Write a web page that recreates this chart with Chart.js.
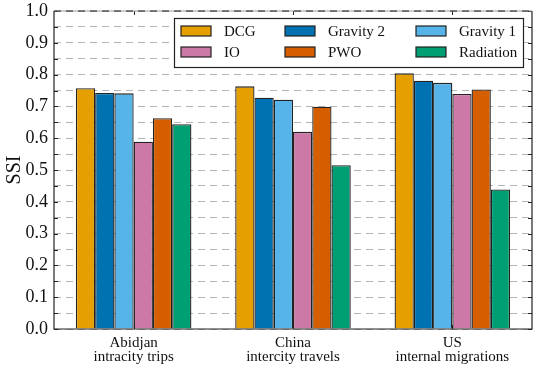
<!DOCTYPE html>
<html>
<head>
<meta charset="utf-8">
<script src="https://cdn.jsdelivr.net/npm/chart.js@4"></script>
<style>
    html, body { margin: 0; padding: 0; background: #fff; }
    #wrap { width: 548px; height: 366px; }
</style>
</head>
<body>
<div id="wrap"><canvas id="chartSSI"></canvas></div>
<script>
const categorias = [['Abidjan', 'intracity trips'], ['China', 'intercity travels'], ['US', 'internal migrations']];
const modelos = ['DCG', 'Gravity 2', 'Gravity 1', 'IO', 'PWO', 'Radiation'];
const colores = ['#E69F00', '#0072B2', '#56B4E9', '#CC79A7', '#D55E00', '#009E73'];

const dcg = [0.757, 0.763, 0.804];
const gravity2 = [0.742, 0.727, 0.781];
const gravity1 = [0.741, 0.721, 0.774];
const io = [0.589, 0.620, 0.739];
const pwo = [0.663, 0.699, 0.753];
const radiation = [0.644, 0.515, 0.439];
const series = [dcg, gravity2, gravity1, io, pwo, radiation];

const FUENTE = "'Liberation Serif', 'Times New Roman', serif";

// marco, marcas de ticks y leyenda dentro del area
const marcoPlugin = {
    id: 'marco',
    afterDraw(chart) {
        const { ctx, chartArea: a, scales } = chart;
        const x = scales.x, y = scales.y;
        ctx.save();
        ctx.strokeStyle = '#222';
        ctx.lineWidth = 1;

        // ticks internos a izquierda y derecha
        y.ticks.forEach((t, i) => {
            const py = Math.round(y.getPixelForTick(i)) + 0.5;
            ctx.beginPath();
            ctx.moveTo(a.left, py); ctx.lineTo(a.left + 4, py);
            ctx.moveTo(a.right, py); ctx.lineTo(a.right - 4, py);
            ctx.stroke();
        });
        // ticks arriba y abajo en el centro de cada categoria
        categorias.forEach((c, i) => {
            const px = Math.round(x.getPixelForTick(i)) + 0.5;
            ctx.beginPath();
            ctx.moveTo(px, a.top); ctx.lineTo(px, a.top + 4);
            ctx.moveTo(px, a.bottom); ctx.lineTo(px, a.bottom - 4);
            ctx.stroke();
        });

        // marco
        ctx.lineWidth = 1.2;
        ctx.beginPath();
        ctx.moveTo(a.left, a.top); ctx.lineTo(a.left, a.bottom);
        ctx.lineTo(a.right, a.bottom); ctx.lineTo(a.right, a.top);
        ctx.stroke();
        ctx.strokeStyle = '#999';
        ctx.beginPath();
        ctx.moveTo(a.left, a.top); ctx.lineTo(a.right, a.top);
        ctx.stroke();
        ctx.strokeStyle = '#333';
        ctx.setLineDash([7, 5]);
        ctx.beginPath();
        ctx.moveTo(a.left, a.top); ctx.lineTo(a.right, a.top);
        ctx.stroke();
        ctx.setLineDash([]);

        // leyenda
        const lx = 174, ly = 18, lw = 349, lh = 49;
        ctx.fillStyle = '#fff';
        ctx.fillRect(lx, ly, lw, lh);
        ctx.strokeStyle = '#222';
        ctx.lineWidth = 1.2;
        ctx.strokeRect(lx + 0.5, ly + 0.5, lw, lh);

        const colX = [181, 285, 416];
        const filaY = [31, 52];
        ctx.font = '15px ' + FUENTE;
        ctx.textBaseline = 'middle';
        ctx.textAlign = 'left';
        chart.data.datasets.forEach((ds, i) => {
            const cx = colX[i % 3], cy = filaY[Math.floor(i / 3)];
            ctx.fillStyle = ds.backgroundColor;
            ctx.fillRect(cx, cy - 5, 30, 10);
            ctx.strokeStyle = '#222';
            ctx.lineWidth = 1.2;
            ctx.strokeRect(cx, cy - 5, 30, 10);
            ctx.fillStyle = '#111';
            ctx.fillText(ds.label, cx + 43, cy + 1);
        });
        ctx.restore();
    }
};

const ctx = document.getElementById('chartSSI').getContext('2d');
new Chart(ctx, {
    type: 'bar',
    data: {
        labels: categorias,
        datasets: modelos.map((m, i) => ({
            label: m,
            data: series[i],
            backgroundColor: colores[i],
            borderColor: '#222',
            borderWidth: 1.3,
            barPercentage: 1,
            categoryPercentage: 0.725
        }))
    },
    options: {
        responsive: true,
        maintainAspectRatio: false,
        animation: false,
        layout: { padding: { top: 11, right: 16, bottom: 0, left: 0 } },
        plugins: {
            legend: { display: false },
            tooltip: { enabled: false }
        },
        scales: {
            x: {
                grid: { display: false, drawTicks: false },
                border: { display: false },
                ticks: {
                    color: '#111',
                    padding: 7,
                    font: { family: FUENTE, size: 15, lineHeight: 0.95 }
                },
                afterFit(scale) { scale.height = 37; }
            },
            y: {
                min: 0,
                max: 1,
                grid: {
                    color: '#b5b5b5',
                    lineWidth: 1,
                    drawTicks: false
                },
                border: { display: false, dash: [7, 5] },
                ticks: {
                    stepSize: 0.05,
                    color: '#111',
                    padding: 6,
                    autoSkip: false,
                    font: { family: FUENTE, size: 18 },
                    callback: v => (Math.round(v * 100) % 10 === 0 ? v.toFixed(1) : '')
                },
                title: {
                    display: true,
                    text: 'SSI',
                    color: '#111',
                    padding: { top: 3, bottom: 0 },
                    font: { family: FUENTE, size: 20 }
                },
                afterFit(scale) {
                    scale.width = 54;
                    scale.paddingTop = 0;
                    scale.paddingBottom = 0;
                }
            }
        }
    },
    plugins: [marcoPlugin]
});
</script>
</body>
</html>
